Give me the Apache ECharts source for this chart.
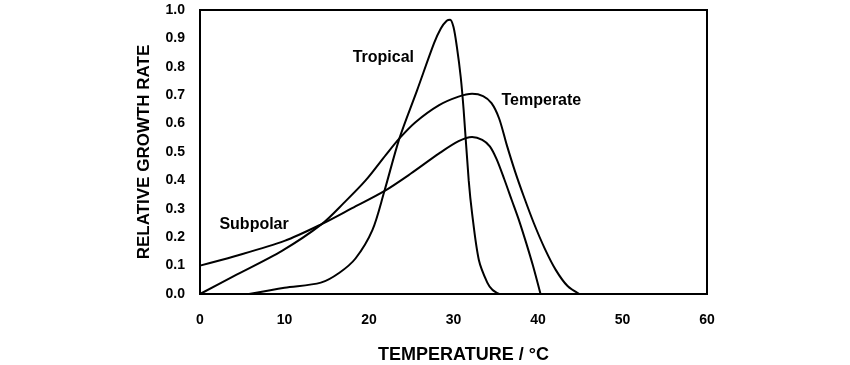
<!DOCTYPE html>
<html><head><meta charset="utf-8">
<script src="https://cdn.jsdelivr.net/npm/echarts@6/dist/echarts.min.js"></script>
<style>html,body{margin:0;padding:0;background:#fff}#c{width:850px;height:365px}</style>
</head><body><div id="c"></div>
<script>
const xTicks = [0, 10, 20, 30, 40, 50, 60];
const yTicks = [0.0, 0.1, 0.2, 0.3, 0.4, 0.5, 0.6, 0.7, 0.8, 0.9, 1.0];
const subpolar = [[0,0.10],[4,0.132],[10,0.187],[14.4,0.246],[18,0.302],[21.8,0.362],[25,0.425],[28.3,0.495],[30.6,0.538],[32.2,0.553],[33.4,0.543],[34.3,0.52],[35.1,0.475],[36,0.405],[36.9,0.33],[37.8,0.255],[38.6,0.18],[39.4,0.1],[40.3,0]];
const temperate = [[0,0],[4,0.063],[9.7,0.152],[14.4,0.246],[17,0.32],[19.6,0.40],[22,0.49],[23.6,0.548],[25.5,0.605],[28.3,0.665],[30.6,0.695],[32.2,0.705],[33.5,0.697],[34.5,0.672],[35.4,0.618],[36.3,0.525],[37.3,0.43],[38.3,0.345],[39.5,0.25],[40.8,0.16],[42.1,0.085],[43.5,0.028],[44.9,0]];
const tropical = [[5.8,0],[10,0.022],[14.3,0.04],[16.5,0.075],[18.4,0.125],[20.4,0.225],[21.8,0.36],[23.6,0.548],[25.7,0.718],[27.7,0.883],[28.5,0.935],[29.2,0.962],[29.6,0.966],[30.0,0.94],[30.4,0.87],[30.85,0.765],[31.2,0.648],[31.8,0.40],[32.2,0.284],[33.0,0.12],[34.0,0.04],[34.6,0.015],[35.4,0]];
const labels = [["Tropical",21.7,0.832],["Temperate",40.4,0.68],["Subpolar",6.4,0.246]];

const font = 'Liberation Sans, Arial, sans-serif';
const chart = echarts.init(document.getElementById('c'));
const mk = (name, data, lab) => ({
  type:'line', name, data, smooth:0.3, symbol:'none',
  lineStyle:{color:'#000', width:2}, animation:false, silent:true,
  markPoint:{symbol:'circle', symbolSize:0, silent:true, animation:false,
    data:[{coord:[lab[1],lab[2]], label:{show:true, formatter:lab[0], position:'inside',
      color:'#000', fontFamily:font, fontWeight:'bold', fontSize:16}}]}
});
chart.setOption({
  animation:false,
  grid:{left:200, right:143, top:10, bottom:71, outerBoundsMode:'none', containLabel:false,
    show:true, borderColor:'#000', borderWidth:2, backgroundColor:'transparent'},
  xAxis:{type:'value', min:xTicks[0], max:xTicks[xTicks.length-1], interval:10,
    axisLine:{show:false}, axisTick:{show:false}, splitLine:{show:false},
    axisLabel:{color:'#000', fontFamily:font, fontWeight:'bold', fontSize:14, margin:19,
      formatter:v=>xTicks.includes(v)?String(v):''},
    name:'TEMPERATURE / °C', nameLocation:'middle', nameGap:52,
    nameTextStyle:{color:'#000', fontFamily:font, fontWeight:'bold', fontSize:18, padding:[0,0,0,20]}},
  yAxis:{type:'value', min:0, max:1, interval:0.1,
    axisLine:{show:false}, axisTick:{show:false}, splitLine:{show:false},
    axisLabel:{color:'#000', fontFamily:font, fontWeight:'bold', fontSize:14, margin:15,
      formatter:v=>{const t=yTicks.find(k=>Math.abs(k-v)<1e-6);return t===undefined?'':t.toFixed(1);}},
    name:'RELATIVE GROWTH RATE', nameLocation:'middle', nameGap:47, nameRotate:90,
    nameTextStyle:{color:'#000', fontFamily:font, fontWeight:'bold', fontSize:17}},
  series:[mk('Subpolar',subpolar,labels[2]), mk('Temperate',temperate,labels[1]), mk('Tropical',tropical,labels[0])]
});
</script></body></html>
